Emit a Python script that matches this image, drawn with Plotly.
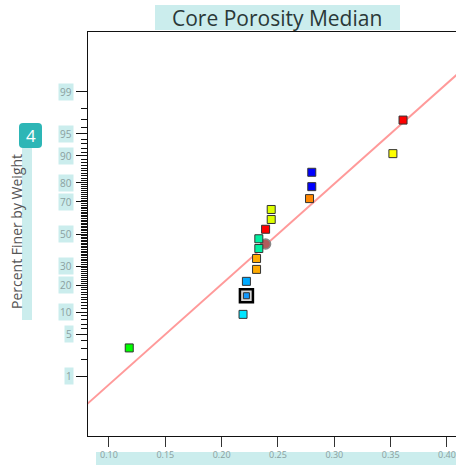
import plotly.graph_objects as go
from statistics import NormalDist

# ---- data -------------------------------------------------------------
# measured values, sorted, with their cumulative probability (%)
sample_values = [0.118, 0.219, 0.222, 0.222, 0.231, 0.231, 0.233, 0.233,
                 0.239, 0.244, 0.244, 0.278, 0.280, 0.280, 0.352, 0.361]
cum_percent = [3.1, 9.4, 15.6, 21.9, 28.1, 34.4, 40.6, 46.9,
               53.1, 59.4, 65.6, 71.9, 78.1, 84.4, 90.6, 96.9]
point_colors = ["#00ff00", "#00e5ff", "#1199ff", "#00aaff", "#ffaa00", "#ffaa00",
                "#00f0a0", "#00f0a0", "#ff0000", "#ddff00", "#ddff00", "#ff8800",
                "#0000ff", "#0000ff", "#ffff00", "#ff0000"]
selected_index = 2

# reference sample (circle)
ref_value = 0.239
ref_percent = 43.5

# fitted normal line
fit_mu = 0.250
fit_sigma = 0.0608

# axes
x_ticks = [0.10, 0.15, 0.20, 0.25, 0.30, 0.35, 0.40]
x_tick_text = ["0.10", "0.15", "0.20", "0.25", "0.30", "0.35", "0.40"]
x_range = [0.0814, 0.408]
y_tick_percent = [1, 5, 10, 20, 30, 50, 70, 80, 90, 95, 99]
y_minor_percent = [p for p in range(2, 99) if p not in y_tick_percent]
z_limit = 3.309

title_text = "Core Porosity Median"
y_title_text = "Percent Finer by Weight"
badge_text = "4"

# ---- layout geometry ----------------------------------------------------
W, H = 456, 465
ML, MT, MR, MB = 88, 32, 0, 29
PW, PH = W - ML - MR, H - MT - MB
TEAL_LIGHT = "#cbeded"
TEAL = "#2db6b6"


def px(x):
    return (x - ML) / PW


def py(y):
    return (H - MB - y) / PH


z = NormalDist().inv_cdf


def to_z(pcts):
    return [z(p / 100.0) for p in pcts]


fig = go.Figure()

# fitted line
fig.add_trace(go.Scatter(
    x=[fit_mu + fit_sigma * (-4), fit_mu + fit_sigma * 4], y=[-4, 4],
    mode="lines", line=dict(color="#ff9a9a", width=2), hoverinfo="skip"))

# reference circle
fig.add_trace(go.Scatter(
    x=[ref_value], y=to_z([ref_percent]), mode="markers",
    marker=dict(symbol="circle", size=10, color="#b05c5c", opacity=1,
                line=dict(color="#888888", width=1.5))))

# highlighted sample frame
fig.add_trace(go.Scatter(
    x=[sample_values[selected_index]], y=to_z([cum_percent[selected_index]]),
    mode="markers",
    marker=dict(symbol="square", size=13, color="#d8d8d8", opacity=1,
                line=dict(color="#000000", width=2.5))))

# samples
sizes = [8] * len(sample_values)
sizes[selected_index] = 6
fig.add_trace(go.Scatter(
    x=sample_values, y=to_z(cum_percent), mode="markers",
    marker=dict(symbol="square", size=sizes, color=point_colors, opacity=1,
                line=dict(color="#333333", width=1))))

shapes = []
annotations = []

# title band + text
shapes.append(dict(type="rect", xref="paper", yref="paper", x0=px(155), x1=px(400),
                   y0=py(30), y1=py(5), fillcolor=TEAL_LIGHT, line=dict(width=0),
                   layer="below"))
annotations.append(dict(xref="paper", yref="paper", x=px(277), y=py(17.5),
                        xanchor="center", yanchor="middle",
                        text=title_text, showarrow=False,
                        font=dict(size=21, color="#2a3838")))

# y tick labels with highlight boxes
for p in y_tick_percent:
    annotations.append(dict(xref="paper", yref="y", x=0, y=z(p / 100.0),
                            xanchor="right", yanchor="middle", xshift=-14,
                            text=str(p), showarrow=False,
                            font=dict(size=10, color="#8aa0a0"), bgcolor=TEAL_LIGHT,
                            borderpad=1))

# x tick label band
shapes.append(dict(type="rect", xref="paper", yref="paper", x0=px(96), x1=px(456),
                   y0=py(465), y1=py(452), fillcolor=TEAL_LIGHT, line=dict(width=0),
                   layer="below"))

# y title band + text
shapes.append(dict(type="rect", xref="paper", yref="paper", x0=px(22), x1=px(32),
                   y0=py(320), y1=py(148), fillcolor=TEAL_LIGHT, line=dict(width=0),
                   layer="below"))
annotations.append(dict(xref="paper", yref="paper", x=px(16), y=py(232),
                        xanchor="center", yanchor="middle",
                        text=y_title_text, textangle=-90, showarrow=False,
                        font=dict(size=14, color="#555555")))

# badge
bx0, bx1, by0, by1, r = 19, 42, 123, 148, 4
path = (f"M {px(bx0 + r)},{py(by0)} L {px(bx1 - r)},{py(by0)} "
        f"Q {px(bx1)},{py(by0)} {px(bx1)},{py(by0 + r)} L {px(bx1)},{py(by1 - r)} "
        f"Q {px(bx1)},{py(by1)} {px(bx1 - r)},{py(by1)} L {px(bx0 + r)},{py(by1)} "
        f"Q {px(bx0)},{py(by1)} {px(bx0)},{py(by1 - r)} L {px(bx0)},{py(by0 + r)} "
        f"Q {px(bx0)},{py(by0)} {px(bx0 + r)},{py(by0)} Z")
shapes.append(dict(type="path", xref="paper", yref="paper", path=path,
                   fillcolor=TEAL, line=dict(width=0)))
annotations.append(dict(xref="paper", yref="paper", x=px(30.5), y=py(135.5),
                        xanchor="center", yanchor="middle",
                        text=badge_text, showarrow=False,
                        font=dict(size=17, color="white")))

fig.update_layout(
    width=W, height=H, margin=dict(l=ML, r=MR, t=MT, b=MB),
    paper_bgcolor="white", plot_bgcolor="white", showlegend=False,
    font=dict(family="Open Sans, sans-serif"),
    shapes=shapes, annotations=annotations,
    xaxis=dict(range=x_range, tickvals=x_ticks, ticktext=x_tick_text,
               ticks="outside", ticklen=10, tickcolor="#333", tickwidth=1.2,
               showline=True, linecolor="#111", linewidth=1.2, mirror=True,
               showgrid=False, zeroline=False,
               tickfont=dict(size=9, color="#8aa0a0")),
    yaxis=dict(range=[-z_limit, z_limit], tickvals=to_z(y_tick_percent),
               showticklabels=False, ticks="outside", ticklen=11,
               tickcolor="#111", tickwidth=1.2,
               minor=dict(tickmode="array", tickvals=to_z(y_minor_percent),
                          ticks="outside", ticklen=6, tickcolor="#111", tickwidth=1),
               showline=True, linecolor="#111", linewidth=1.2, mirror=False,
               showgrid=False, zeroline=False),
)

fig.write_html("out.html")
